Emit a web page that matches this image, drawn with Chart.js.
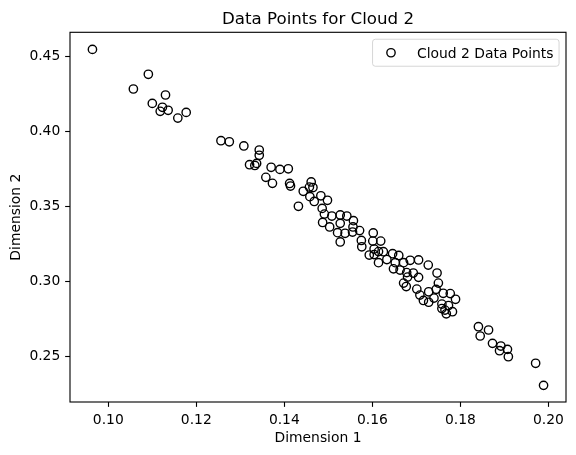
<!DOCTYPE html>
<html>
<head>
<meta charset="utf-8">
<title>Data Points for Cloud 2</title>
<script src="https://cdn.jsdelivr.net/npm/chart.js@4.4.0/dist/chart.umd.min.js"></script>
<style>
  html, body { margin: 0; padding: 0; background: #fff; }
</style>
</head>
<body>
<canvas id="cloudChart" width="576" height="455"></canvas>
<script>
// values
const cloud2X = [0.0964, 0.1091, 0.1057, 0.1130, 0.1100, 0.1123, 0.1118, 0.1136, 0.1158, 0.1177,
  0.1256, 0.1275, 0.1308, 0.1343, 0.1343, 0.1337, 0.1321, 0.1333, 0.1370, 0.1390,
  0.1409, 0.1358, 0.1373, 0.1412, 0.1414, 0.1432, 0.1443, 0.1461, 0.1457, 0.1465,
  0.1458, 0.1468, 0.1483, 0.1498, 0.1486, 0.1491, 0.1508, 0.1527, 0.1542, 0.1487,
  0.1503, 0.1527, 0.1557, 0.1556, 0.1555, 0.1571, 0.1521, 0.1538, 0.1527, 0.1602,
  0.1575, 0.1576, 0.1601, 0.1619, 0.1604, 0.1614, 0.1625, 0.1593, 0.1604, 0.1614,
  0.1633, 0.1646, 0.1660, 0.1652, 0.1671, 0.1686, 0.1705, 0.1727, 0.1648, 0.1663,
  0.1678, 0.1693, 0.1705, 0.1680, 0.1671, 0.1677, 0.1747, 0.1750, 0.1701, 0.1708,
  0.1728, 0.1745, 0.1761, 0.1777, 0.1789, 0.1716, 0.1728, 0.1740, 0.1758, 0.1758,
  0.1773, 0.1765, 0.1782, 0.1768, 0.1841, 0.1864, 0.1845, 0.1873, 0.1892, 0.1889,
  0.1907, 0.1909, 0.1971, 0.1989];

const cloud2Y = [0.4549, 0.4383, 0.4285, 0.4245, 0.4189, 0.4163, 0.4136, 0.4143, 0.4091, 0.4129,
  0.3940, 0.3933, 0.3905, 0.3878, 0.3843, 0.3789, 0.3780, 0.3775, 0.3763, 0.3749,
  0.3753, 0.3696, 0.3656, 0.3655, 0.3638, 0.3503, 0.3603, 0.3665, 0.3631, 0.3628,
  0.3567, 0.3535, 0.3573, 0.3543, 0.3489, 0.3451, 0.3438, 0.3445, 0.3438, 0.3395,
  0.3365, 0.3389, 0.3407, 0.3365, 0.3331, 0.3341, 0.3327, 0.3323, 0.3265, 0.3325,
  0.3275, 0.3233, 0.3271, 0.3271, 0.3218, 0.3201, 0.3200, 0.3178, 0.3181, 0.3127,
  0.3148, 0.3187, 0.3175, 0.3127, 0.3127, 0.3143, 0.3145, 0.3111, 0.3086, 0.3078,
  0.3061, 0.3058, 0.3029, 0.3031, 0.2991, 0.2968, 0.3058, 0.2991, 0.2951, 0.2911,
  0.2933, 0.2949, 0.2923, 0.2921, 0.2883, 0.2875, 0.2863, 0.2891, 0.2851, 0.2821,
  0.2841, 0.2811, 0.2800, 0.2786, 0.2700, 0.2678, 0.2638, 0.2589, 0.2571, 0.2540,
  0.2549, 0.2500, 0.2456, 0.2309];

const xTicks = [0.10, 0.12, 0.14, 0.16, 0.18, 0.20];
const yTicks = [0.25, 0.30, 0.35, 0.40, 0.45];

const chartTitle = 'Data Points for Cloud 2';
const seriesLabel = 'Cloud 2 Data Points';

const PT = 100 / 72;   // one matplotlib point in px
const FONT = 'DejaVu Sans';
const FS = 10 * PT;

const points = cloud2X.map((x, i) => ({ x: x, y: cloud2Y[i] }));

// title, full frame and the legend box, drawn mpl-style
const framePlugin = {
  id: 'framePlugin',
  afterDraw(chart) {
    const ctx = chart.ctx;
    const a = chart.chartArea;
    ctx.save();

    ctx.strokeStyle = '#000';
    ctx.lineWidth = 0.8 * PT;
    ctx.strokeRect(a.left, a.top, a.right - a.left, a.bottom - a.top);

    ctx.fillStyle = '#000';
    ctx.font = (12 * PT) + 'px "' + FONT + '"';
    ctx.textAlign = 'center';
    ctx.textBaseline = 'alphabetic';
    ctx.fillText(chartTitle, (a.left + a.right) / 2, a.top - 6 * PT);

    // legend
    ctx.font = FS + 'px "' + FONT + '"';
    const pad = 0.4 * FS, handleLen = 2 * FS, textPad = 0.8 * FS, axPad = 0.5 * FS;
    const textW = ctx.measureText(seriesLabel).width;
    const boxW = pad * 2 + handleLen + textPad + textW;
    const boxH = 27;
    const right = a.right - axPad, top = a.top + axPad, left = right - boxW;
    const r = 0.2 * FS;
    ctx.beginPath();
    ctx.moveTo(left + r, top);
    ctx.lineTo(right - r, top);
    ctx.quadraticCurveTo(right, top, right, top + r);
    ctx.lineTo(right, top + boxH - r);
    ctx.quadraticCurveTo(right, top + boxH, right - r, top + boxH);
    ctx.lineTo(left + r, top + boxH);
    ctx.quadraticCurveTo(left, top + boxH, left, top + boxH - r);
    ctx.lineTo(left, top + r);
    ctx.quadraticCurveTo(left, top, left + r, top);
    ctx.closePath();
    ctx.fillStyle = 'rgba(255,255,255,0.8)';
    ctx.fill();
    ctx.strokeStyle = 'rgba(204,204,204,0.8)';
    ctx.lineWidth = 1;
    ctx.stroke();

    const cy = top + boxH / 2;
    ctx.beginPath();
    ctx.arc(left + pad + handleLen / 2 - 1, cy, 3 * PT, 0, Math.PI * 2);
    ctx.strokeStyle = '#000';
    ctx.lineWidth = PT;
    ctx.stroke();

    ctx.fillStyle = '#000';
    ctx.textAlign = 'left';
    ctx.textBaseline = 'alphabetic';
    ctx.fillText(seriesLabel, left + pad + handleLen + textPad, top + pad + 13);
    ctx.restore();
  }
};

function axisFont() {
  return { family: FONT, size: FS };
}

const ctx = document.getElementById('cloudChart').getContext('2d');
const chart = new Chart(ctx, {
  type: 'scatter',
  data: {
    datasets: [{
      label: seriesLabel,
      data: points,
      pointRadius: 3 * PT,
      pointHoverRadius: 3 * PT,
      pointBorderWidth: PT,
      pointBorderColor: '#000',
      pointBackgroundColor: 'rgba(0,0,0,0)'
    }]
  },
  options: {
    responsive: false,
    animation: false,
    devicePixelRatio: 1,
    layout: { padding: { top: 32.3, right: 10, bottom: 0, left: 0 } },
    plugins: {
      legend: { display: false },
      title: { display: false },
      tooltip: { enabled: false }
    },
    scales: {
      x: {
        type: 'linear',
        min: 0.0913,
        max: 0.2040,
        bounds: 'data',
        afterBuildTicks: s => { s.ticks = xTicks.map(v => ({ value: v })); },
        afterFit: s => { s.height = 53; },
        border: { display: false },
        grid: {
          drawOnChartArea: false,
          drawTicks: true,
          tickLength: 3.5 * PT,
          tickColor: '#000',
          tickWidth: 0.8 * PT
        },
        ticks: {
          color: '#000',
          font: axisFont(),
          padding: 5.5,
          maxRotation: 0,
          autoSkip: false,
          callback: v => v.toFixed(2)
        },
        title: {
          display: true,
          text: 'Dimension 1',
          color: '#000',
          font: axisFont(),
          padding: { top: 0, bottom: 8.5 }
        }
      },
      y: {
        type: 'linear',
        min: 0.2198,
        max: 0.4663,
        bounds: 'data',
        afterBuildTicks: s => { s.ticks = yTicks.map(v => ({ value: v })); },
        afterFit: s => { s.width = 70; },
        border: { display: false },
        grid: {
          drawOnChartArea: false,
          drawTicks: true,
          tickLength: 3.5 * PT,
          tickColor: '#000',
          tickWidth: 0.8 * PT
        },
        ticks: {
          color: '#000',
          font: axisFont(),
          padding: 3.5 * PT,
          autoSkip: false,
          callback: v => v.toFixed(2)
        },
        title: {
          display: true,
          text: 'Dimension 2',
          color: '#000',
          font: axisFont(),
          padding: { top: 8.2, bottom: 0 }
        }
      }
    }
  },
  plugins: [framePlugin]
});
</script>
</body>
</html>
